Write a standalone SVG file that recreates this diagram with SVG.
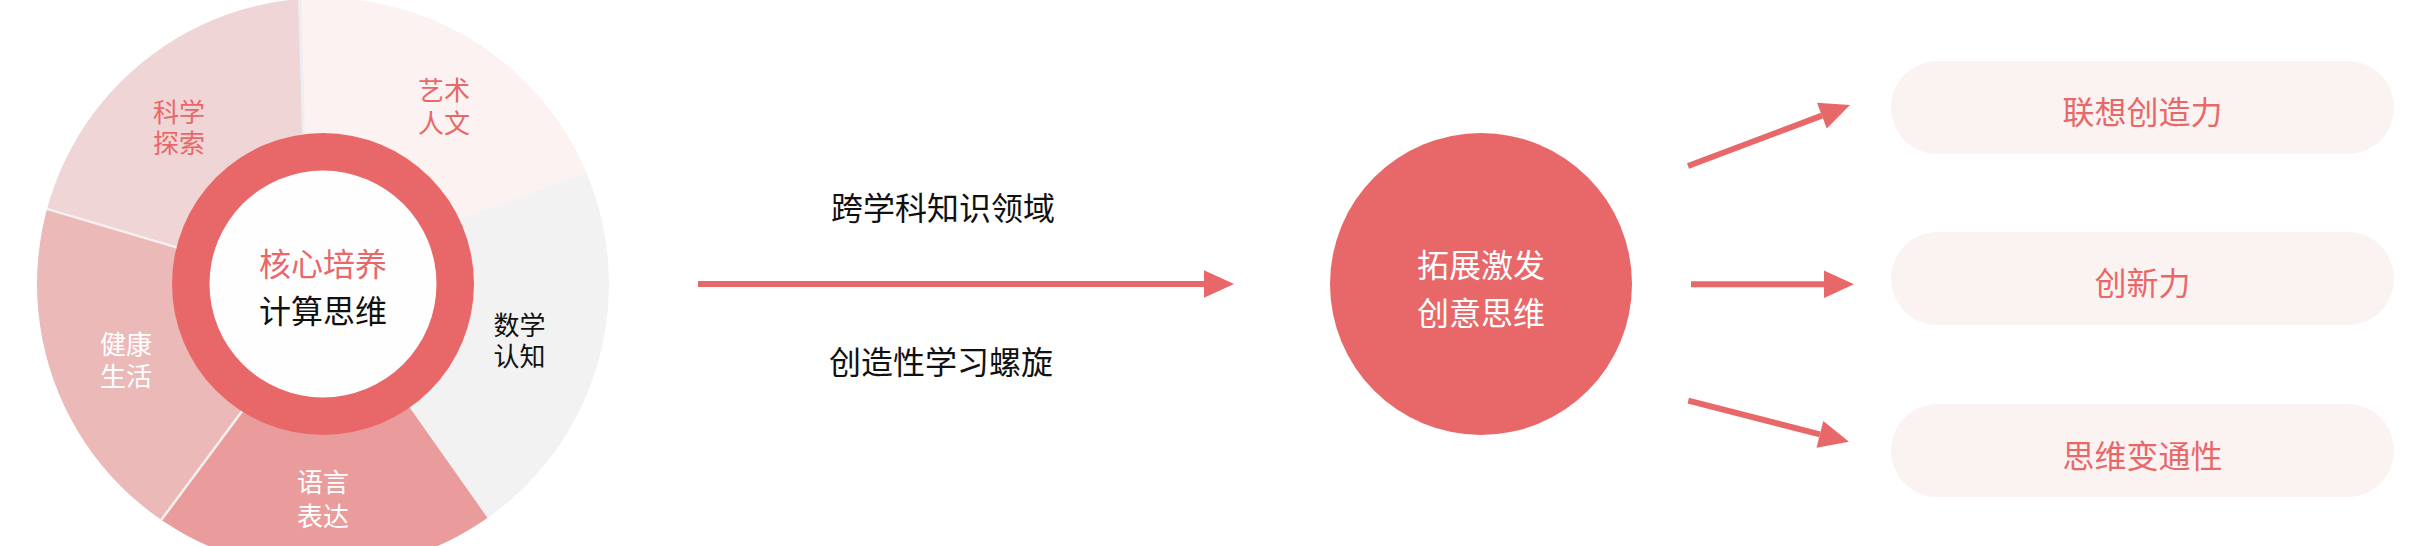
<svg xmlns="http://www.w3.org/2000/svg" width="2418" height="546" viewBox="0 0 2418 546">
<style>
text{font-family:"Noto Sans CJK SC","Noto Sans",sans-serif;text-anchor:middle;dominant-baseline:central;}
.seg{font-size:26px;}
.big{font-size:32px;}
.red{fill:#E8686A;}
.blk{fill:#111111;}
.wht{fill:#FFFFFF;}
.conn{stroke:#E8686A;stroke-width:6;fill:none;marker-end:url(#ah);}
.pill{fill:#FBF3F2;}
</style>
<defs>
<clipPath id="pieclip"><circle cx="323" cy="284" r="286"/></clipPath>
<marker id="ah" markerUnits="userSpaceOnUse" markerWidth="31" markerHeight="28" viewBox="0 -14 31 28" refX="0" refY="0" orient="auto" overflow="visible">
<path d="M0,-13.8 L30,0 L0,13.8 Z" fill="#E8686A"/>
</marker>
</defs>
<rect width="2418" height="546" fill="#FFFFFF"/>

<g id="pie">
<g clip-path="url(#pieclip)">
<g id="seg-art"><polygon points="323,284 304,150 299,-20 640,-20 640,153.2 440,226.1" fill="#FBF2F1"/></g>
<g id="seg-math"><polygon points="323,284 440,226.1 640,153.2 640,600 530,578 395,386.7" fill="#F2F2F2"/></g>
<g id="seg-lang"><polygon points="323,284 395,386.7 530,578 530,600 120,600 120,575.5 255,393.8" fill="#E99C9B"/></g>
<g id="seg-health"><polygon points="323,284 255,393.8 120,575.5 0,600 0,195 200,254.4" fill="#EBB9B8"/></g>
<g id="seg-sci"><polygon points="323,284 200,254.4 0,195 0,-20 299,-20 304,150" fill="#EFD5D5"/></g>
<line x1="299" y1="-20" x2="304" y2="150" stroke="#ECEEF0" stroke-width="3"/>
<line x1="0" y1="195" x2="200" y2="254.4" stroke="#F5F1F1" stroke-width="2.5"/>
<line x1="120" y1="575.5" x2="255" y2="393.8" stroke="#F5F1F1" stroke-width="2.5"/>
</g>
<g id="ring">
<circle cx="323" cy="284" r="151" fill="#E8686A"/>
<circle cx="323" cy="284" r="113.5" fill="#FEFEFE"/>
</g>
<g id="label-sci"><text class="seg red" x="179" y="110">科学<tspan x="179" dy="31">探索</tspan></text></g>
<g id="label-art"><text class="seg red" x="444" y="88">艺术<tspan x="444" dy="33">人文</tspan></text></g>
<g id="label-math"><text class="seg blk" x="519.5" y="323.5">数学<tspan x="519.5" dy="30.5">认知</tspan></text></g>
<g id="label-health"><text class="seg wht" x="126" y="342">健康<tspan x="126" dy="32">生活</tspan></text></g>
<g id="label-lang"><text class="seg wht" x="323" y="480">语言<tspan x="323" dy="33.5">表达</tspan></text></g>
<g id="core"><text class="big red" x="323" y="262">核心培养</text><text class="big blk" x="323" y="309">计算思维</text></g>
</g>

<g id="mid-labels">
<text class="big blk" x="943" y="206">跨学科知识领域</text>
<text class="big blk" x="941" y="360">创造性学习螺旋</text>
</g>

<g id="creative">
<circle cx="1481" cy="284" r="151" fill="#E8686A"/>
<text class="big wht" x="1481" y="262.5">拓展激发</text>
<text class="big wht" x="1481" y="310.5">创意思维</text>
</g>

<g id="out1"><rect class="pill" x="1891" y="61" width="503" height="93" rx="46.5"/><text class="big red" x="2142.5" y="110">联想创造力</text></g>
<g id="out2"><rect class="pill" x="1891" y="232" width="503" height="93" rx="46.5"/><text class="big red" x="2142.5" y="281">创新力</text></g>
<g id="out3"><rect class="pill" x="1891" y="404" width="503" height="93" rx="46.5"/><text class="big red" x="2142.5" y="453.5">思维变通性</text></g>

<g id="connectors">
<line class="conn" x1="698" y1="284" x2="1204" y2="284"/>
<line class="conn" x1="1688" y1="166" x2="1821.9" y2="115.6"/>
<line class="conn" x1="1691" y1="284.3" x2="1824" y2="284.3"/>
<line class="conn" x1="1688.3" y1="400.7" x2="1819.9" y2="434.3"/>
</g>
</svg>
